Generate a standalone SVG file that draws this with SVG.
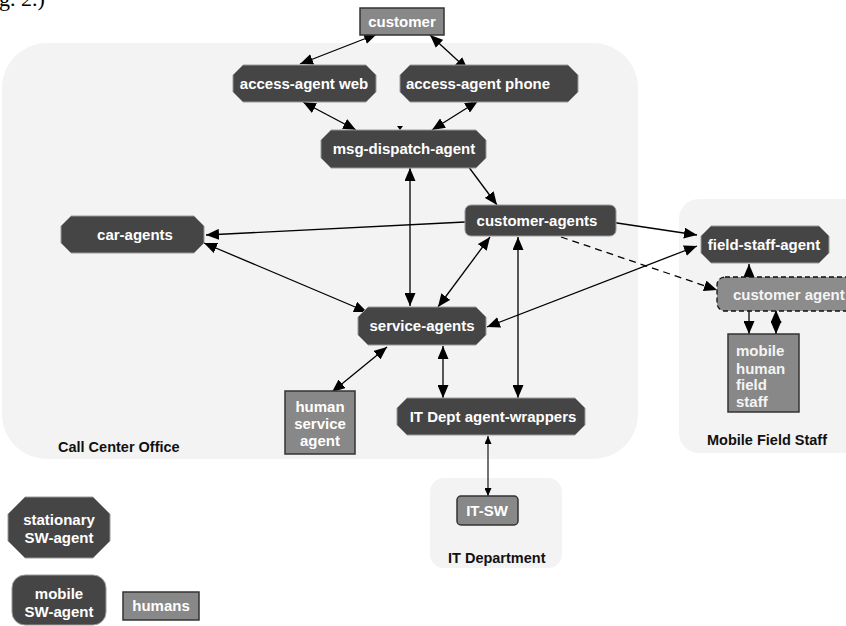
<svg xmlns="http://www.w3.org/2000/svg" width="846" height="626" viewBox="0 0 846 626">
  <style>
    .region { fill: #f3f3f3; stroke: none; }
    .region-label { font-family: "Liberation Sans", Arial, sans-serif; font-weight: bold; font-size: 14.5px; fill: #111; }
    .agent { fill: #454545; stroke: #9a9a9a; stroke-width: 1; }
    .human { fill: #888888; stroke: #333333; stroke-width: 1.5; }
    .mobile-dashed { fill: #8c8c8c; stroke: #111; stroke-width: 1.3; stroke-dasharray: 5 3; }
    .label { font-family: "Liberation Sans", Arial, sans-serif; font-weight: bold; font-size: 15px; fill: #ffffff; text-anchor: middle; }
    .label-left { font-family: "Liberation Sans", Arial, sans-serif; font-weight: bold; font-size: 15px; fill: #f4f4f4; }
    .link { fill: none; stroke: #000; stroke-width: 1.3; }
    .both { marker-start: url(#head); marker-end: url(#head); }
    .one { marker-end: url(#head); }
    .dashed { stroke-dasharray: 7 5; }
    .thin { stroke-width: 1.1; marker-start: url(#small); marker-end: url(#small); }
  </style>
  <defs>
    <marker id="head" markerUnits="userSpaceOnUse" markerWidth="13" markerHeight="11" refX="13" refY="5.5" orient="auto-start-reverse">
      <path d="M0,0 L13,5.5 L0,11 Z" fill="#000"/>
    </marker>
    <marker id="small" markerUnits="userSpaceOnUse" markerWidth="8" markerHeight="7" refX="8" refY="3.5" orient="auto-start-reverse">
      <path d="M0,0 L8,3.5 L0,7 Z" fill="#000"/>
    </marker>
  </defs>

  <!-- caption fragment at the top edge -->
  <text x="-1" y="6" font-family="Liberation Serif, serif" font-size="22" fill="#000">g. 2.)</text>

  <!-- regions -->
  <g id="call-center-office">
    <rect class="region" x="2" y="43" width="636" height="416" rx="45" ry="45"/>
    <text class="region-label" x="58" y="452">Call Center Office</text>
  </g>
  <g id="mobile-field-staff">
    <rect class="region" x="679" y="199" width="190" height="254" rx="20" ry="20"/>
    <text class="region-label" x="707" y="445">Mobile Field Staff</text>
  </g>
  <g id="it-department">
    <rect class="region" x="430" y="478" width="132" height="90" rx="14" ry="14"/>
    <text class="region-label" x="448" y="563">IT Department</text>
  </g>

  <!-- connectors -->
  <g id="connectors">
    <line class="link both" x1="377" y1="34" x2="300" y2="64"/>
    <line class="link both" x1="430" y1="35" x2="468" y2="70"/>
    <line class="link both" x1="303" y1="102" x2="356" y2="130"/>
    <line class="link both" x1="478" y1="101" x2="432" y2="130"/>
    <path d="M397,126 L403,126 L400,130 Z" fill="#000"/>
    <line class="link one" x1="465" y1="162" x2="497" y2="205"/>
    <line class="link both" x1="410" y1="168" x2="410" y2="306"/>
    <line class="link one" x1="465" y1="222" x2="206" y2="235"/>
    <line class="link both" x1="204" y1="243" x2="367" y2="312"/>
    <line class="link both" x1="490" y1="237" x2="438" y2="307"/>
    <line class="link both" x1="518" y1="237" x2="518" y2="398"/>
    <line class="link both" x1="597" y1="220" x2="697" y2="235"/>
    <line class="link both" x1="697" y1="246" x2="487" y2="327"/>
    <line class="link one dashed" x1="561" y1="237" x2="717" y2="290"/>
    <line class="link both" x1="387" y1="347" x2="332" y2="392"/>
    <line class="link both" x1="443" y1="346" x2="443" y2="398"/>
    <line class="link thin" x1="488" y1="436" x2="488" y2="496"/>
    <line class="link both" x1="749" y1="264" x2="749" y2="334"/>
    <line class="link both" x1="776" y1="310" x2="776" y2="334"/>
  </g>

  <!-- nodes -->
  <g id="customer">
    <rect class="human" x="360" y="8" width="84" height="27"/>
    <text class="label" x="402" y="27">customer</text>
  </g>
  <g id="access-agent-web">
    <path class="agent" d="M243,65 H366 L376,75 V92 L366,102 H243 L233,92 V75 Z"/>
    <text class="label" x="304" y="89">access-agent web</text>
  </g>
  <g id="access-agent-phone">
    <path class="agent" d="M410,65 H568 L578,75 V92 L568,102 H410 L400,92 V75 Z"/>
    <text class="label" x="478" y="89">access-agent phone</text>
  </g>
  <g id="msg-dispatch-agent">
    <path class="agent" d="M331,130 H476 L486,140 V158 L476,168 H331 L321,158 V140 Z"/>
    <text class="label" x="404" y="154">msg-dispatch-agent</text>
  </g>
  <g id="car-agents">
    <path class="agent" d="M71,216 H194 L204,226 V243 L194,253 H71 L61,243 V226 Z"/>
    <text class="label" x="135" y="240">car-agents</text>
  </g>
  <g id="customer-agents">
    <rect class="agent" x="465" y="205" width="151" height="31" rx="6" ry="6"/>
    <text class="label" x="537" y="226">customer-agents</text>
  </g>
  <g id="service-agents">
    <path class="agent" d="M368,307 H476 L486,317 V335 L476,345 H368 L358,335 V317 Z"/>
    <text class="label" x="422" y="331">service-agents</text>
  </g>
  <g id="human-service-agent">
    <rect class="human" x="285" y="391" width="70" height="63"/>
    <text class="label" x="320" y="412">human</text>
    <text class="label" x="320" y="429">service</text>
    <text class="label" x="320" y="446">agent</text>
  </g>
  <g id="it-dept-agent-wrappers">
    <path class="agent" d="M407,398 H575 L585,408 V425 L575,435 H407 L397,425 V408 Z"/>
    <text class="label" x="493" y="422">IT Dept agent-wrappers</text>
  </g>
  <g id="field-staff-agent">
    <path class="agent" d="M711,226 H819 L829,236 V253 L819,263 H711 L701,253 V236 Z"/>
    <text class="label" x="764" y="250">field-staff-agent</text>
  </g>
  <g id="customer-agent-mobile">
    <rect class="mobile-dashed" x="717" y="277" width="140" height="34" rx="8" ry="8"/>
    <text class="label-left" x="733" y="300">customer agent</text>
  </g>
  <g id="mobile-human-field-staff">
    <rect class="human" x="728" y="334" width="71" height="78"/>
    <text class="label-left" x="736" y="356">mobile</text>
    <text class="label-left" x="736" y="374">human</text>
    <text class="label-left" x="736" y="390">field</text>
    <text class="label-left" x="736" y="407">staff</text>
  </g>
  <g id="it-sw">
    <rect class="human" x="457" y="496" width="61" height="29" rx="4" ry="4"/>
    <text class="label" x="487" y="516">IT-SW</text>
  </g>

  <!-- legend -->
  <g id="legend-stationary">
    <path class="agent" d="M25,497 H93 L110,514 V541 L93,558 H25 L8,541 V514 Z"/>
    <text class="label" x="59" y="525">stationary</text>
    <text class="label" x="59" y="543">SW-agent</text>
  </g>
  <g id="legend-mobile">
    <rect class="agent" x="12" y="575" width="94" height="50" rx="13" ry="13"/>
    <text class="label" x="59" y="599">mobile</text>
    <text class="label" x="59" y="617">SW-agent</text>
  </g>
  <g id="legend-humans">
    <rect class="human" x="123" y="592" width="76" height="28"/>
    <text class="label" x="161" y="611">humans</text>
  </g>
</svg>
